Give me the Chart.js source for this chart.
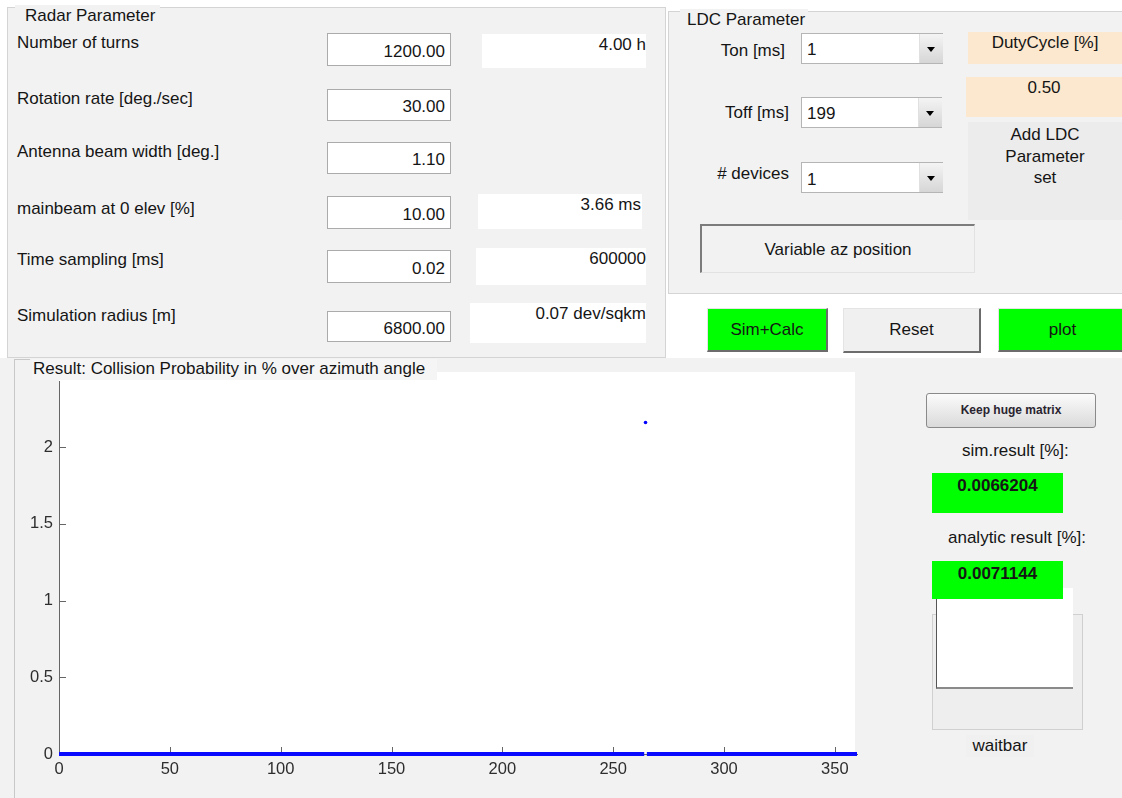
<!DOCTYPE html>
<html>
<head>
<meta charset="utf-8">
<script src="https://cdn.jsdelivr.net/npm/chart.js@4.4.1/dist/chart.umd.min.js"></script>
<style>
  body { margin: 0; width: 1122px; height: 798px; overflow: hidden; background: #fff;
         font-family: "Liberation Sans", Arial, sans-serif; font-size: 17px; color: #151515; position: relative; }
  .abs { position: absolute; box-sizing: border-box; white-space: nowrap; }
  .panel { background: #f2f2f2; border: 1px solid #d4d4d4; }
  .lbl { height: 22px; line-height: 22px; }
  .edit { background: #fff; border: 1px solid #ababab; text-align: right; padding-right: 5px; }
  .info { background: #fff; text-align: right; line-height: 22px; }
  .drop { background: #fff; border: 1px solid #b5b5b5; border-right: none; padding-left: 5px; }
  .drop .arrow { position: absolute; right: 0; top: 0; bottom: 0; width: 23px;
                 background: linear-gradient(#f4f4f4, #d6d6d6); border-left: 1px solid #e0e0e0; }
  .drop .arrow::after { content: ""; position: absolute; left: 7px; top: 13px;
                        border-left: 4px solid transparent; border-right: 4px solid transparent; border-top: 5px solid #000; }
  .btn { text-align: center; line-height: 42px; border-top: 1px solid #e4e4e4; border-left: 1px solid #e4e4e4;
         border-right: 2px solid #6c6c6c; border-bottom: 2px solid #6c6c6c; }
  .green { background: #00ff00; }
  .peach { background: #fce8cf; text-align: center; line-height: 22px; }
</style>
</head>
<body>
<!-- Radar parameter panel -->
<div class="abs panel" style="left:7px;top:7px;width:659px;height:351px;"></div>
<div class="abs lbl" style="left:15px;top:5px;width:145px;background:#f2f2f2;padding-left:10px;">Radar Parameter</div>
<div class="abs lbl" style="left:17px;top:32px;">Number of turns</div>
<div class="abs lbl" style="left:17px;top:88px;">Rotation rate [deg./sec]</div>
<div class="abs lbl" style="left:17px;top:141px;">Antenna beam width [deg.]</div>
<div class="abs lbl" style="left:17px;top:198px;">mainbeam at 0 elev [%]</div>
<div class="abs lbl" style="left:17px;top:249px;">Time sampling [ms]</div>
<div class="abs lbl" style="left:17px;top:305px;">Simulation radius [m]</div>

<div class="abs edit" style="left:327px;top:33px;width:124px;height:33px;line-height:35px;">1200.00</div>
<div class="abs edit" style="left:327px;top:89px;width:124px;height:32px;line-height:34px;">30.00</div>
<div class="abs edit" style="left:327px;top:142px;width:124px;height:32px;line-height:34px;">1.10</div>
<div class="abs edit" style="left:327px;top:196px;width:124px;height:33px;line-height:35px;">10.00</div>
<div class="abs edit" style="left:327px;top:250px;width:124px;height:33px;line-height:35px;">0.02</div>
<div class="abs edit" style="left:327px;top:311px;width:124px;height:31px;line-height:33px;">6800.00</div>

<div class="abs info" style="left:482px;top:34px;width:164px;height:34px;">4.00 h</div>
<div class="abs info" style="left:478px;top:194px;width:164px;height:35px;padding-right:1px;">3.66 ms</div>
<div class="abs info" style="left:476px;top:248px;width:170px;height:37px;">600000</div>
<div class="abs info" style="left:470px;top:303px;width:176px;height:40px;">0.07 dev/sqkm</div>

<!-- LDC parameter panel -->
<div class="abs panel" style="left:668px;top:11px;width:470px;height:283px;"></div>
<div class="abs lbl" style="left:680px;top:9px;width:128px;background:#f2f2f2;padding-left:7px;">LDC Parameter</div>
<div class="abs lbl" style="left:700px;top:40px;width:85px;text-align:right;">Ton [ms]</div>
<div class="abs lbl" style="left:700px;top:102px;width:89px;text-align:right;">Toff [ms]</div>
<div class="abs lbl" style="left:700px;top:163px;width:89px;text-align:right;"># devices</div>
<div class="abs drop" style="left:801px;top:33px;width:142px;height:31px;line-height:31px;">1<div class="arrow"></div></div>
<div class="abs drop" style="left:801px;top:97px;width:141px;height:31px;line-height:31px;">199<div class="arrow"></div></div>
<div class="abs drop" style="left:801px;top:162px;width:142px;height:31px;line-height:33px;">1<div class="arrow"></div></div>
<div class="abs peach" style="left:968px;top:32px;width:154px;height:32px;">DutyCycle [%]</div>
<div class="abs peach" style="left:966px;top:77px;width:156px;height:40px;">0.50</div>
<div class="abs" style="left:968px;top:122px;width:154px;height:98px;background:#ececec;text-align:center;line-height:21.5px;padding-top:2px;white-space:normal;">Add LDC<br>Parameter<br>set</div>
<div class="abs" style="left:700px;top:224px;width:275px;height:49px;background:#f2f2f2;border-top:2px solid #7c7c7c;border-left:2px solid #7c7c7c;border-right:1px solid #e2e2e2;border-bottom:1px solid #e2e2e2;text-align:center;line-height:48px;">Variable az position</div>

<!-- buttons -->
<div class="abs btn green" style="left:707px;top:308px;width:121px;height:44px;">Sim+Calc</div>
<div class="abs btn" style="left:843px;top:308px;width:138px;height:45px;background:#f0f0f0;">Reset</div>
<div class="abs btn green" style="left:998px;top:308px;width:130px;height:44px;">plot</div>

<!-- result area -->
<div class="abs" style="left:0;top:358px;width:1122px;height:440px;background:#f2f2f2;"></div>
<div class="abs" style="left:14px;top:359px;width:1px;height:439px;background:#c8c8c8;"></div>
<div class="abs" style="left:14px;top:359px;width:16px;height:1px;background:#c8c8c8;"></div>
<div class="abs" style="left:14px;top:362px;width:866px;height:436px;">
  <canvas id="resultChart" width="866" height="436"></canvas>
</div>
<div class="abs lbl" style="left:32px;top:359px;width:405px;height:21px;background:#f5f5f5;padding-left:1px;line-height:20px;">Result: Collision Probability in % over azimuth angle</div>

<!-- right side -->
<div class="abs" style="left:926px;top:393px;width:170px;height:35px;border:1px solid #8a8a8a;border-radius:3px;background:linear-gradient(#fbfbfb,#dadada);text-align:center;line-height:33px;font-size:12px;font-weight:bold;color:#2a2430;">Keep huge matrix</div>
<div class="abs lbl" style="left:962px;top:440px;">sim.result [%]:</div>
<div class="abs green" style="left:932px;top:473px;width:131px;height:40px;text-align:center;font-weight:bold;line-height:26px;">0.0066204</div>
<div class="abs lbl" style="left:948px;top:527px;">analytic result [%]:</div>
<div class="abs" style="left:932px;top:614px;width:151px;height:116px;background:#eeeeee;border:1px solid #d0d0d0;"></div>
<div class="abs" style="left:936px;top:588px;width:137px;height:101px;background:#fff;border-left:1px solid #555;border-bottom:2px solid #8a8a8a;"></div>
<div class="abs green" style="left:932px;top:561px;width:131px;height:38px;text-align:center;font-weight:bold;line-height:25px;">0.0071144</div>
<div class="abs lbl" style="left:966px;top:735px;width:68px;background:#f0f0f0;text-align:center;">waitbar</div>

<script>
// Result plot: collision probability in % over azimuth angle
const xTicks = [0, 50, 100, 150, 200, 250, 300, 350];
const yTicks = [0, 0.5, 1, 1.5, 2];
// baseline of samples at 0 %, broken where the one hit sits
const baseAngles = [0, 264.0, 264.6, 265.2, 360];
const baseValues = [0, 0, null, 0, 0];
const spikeAngles = [264.6];
const spikeValues = [2.16];

const FONT = '"Liberation Sans", Arial, sans-serif';

const plotBackground = {
    id: 'plotBackground',
    beforeDraw(chart) {
        const { ctx, chartArea: a } = chart;
        ctx.save();
        ctx.fillStyle = '#ffffff';
        ctx.fillRect(a.left, a.top - 9, a.right - a.left - 2, a.bottom - a.top + 9);
        ctx.restore();
    }
};

// matlab style ticks pointing into the axes
const innerTicks = {
    id: 'innerTicks',
    beforeDatasetsDraw(chart) {
        const { ctx, chartArea: a, scales } = chart;
        ctx.save();
        ctx.strokeStyle = '#666';
        ctx.lineWidth = 1;
        ctx.beginPath();
        scales.x.ticks.forEach(t => {
            const px = Math.round(scales.x.getPixelForValue(t.value)) + 0.5;
            ctx.moveTo(px, a.bottom);
            ctx.lineTo(px, a.bottom - 7);
        });
        scales.y.ticks.forEach(t => {
            const py = Math.round(scales.y.getPixelForValue(t.value)) + 0.5;
            ctx.moveTo(a.left, py);
            ctx.lineTo(a.left + 7, py);
        });
        ctx.stroke();
        ctx.restore();
    }
};

function initResultChart() {
    const ctx = document.getElementById('resultChart');
    new Chart(ctx, {
        type: 'line',
        data: {
            datasets: [{
                data: baseAngles.map((x, i) => ({ x, y: baseValues[i] })),
                borderColor: '#0a0aff',
                borderWidth: 4,
                borderCapStyle: 'butt',
                pointRadius: 0,
                spanGaps: false,
                clip: 6
            }, {
                type: 'scatter',
                data: spikeAngles.map((x, i) => ({ x, y: spikeValues[i] })),
                backgroundColor: '#0000ff',
                borderWidth: 0,
                pointRadius: 1.8
            }]
        },
        options: {
            responsive: false,
            animation: false,
            layout: { padding: { top: 19, right: 23, left: 0, bottom: 0 } },
            plugins: { legend: { display: false }, tooltip: { enabled: false } },
            scales: {
                x: {
                    type: 'linear',
                    min: 0,
                    max: 360,
                    afterBuildTicks: s => { s.ticks = xTicks.map(v => ({ value: v })); },
                    afterFit: s => { s.height = 44; },
                    grid: { display: false, drawTicks: false },
                    border: { display: true, color: '#666', width: 1 },
                    ticks: { color: '#2e2e2e', font: { size: 16.5, family: FONT }, padding: 6,
                             autoSkip: false, maxRotation: 0, callback: v => String(v) }
                },
                y: {
                    type: 'linear',
                    min: 0,
                    max: 2.43,
                    afterBuildTicks: s => { s.ticks = yTicks.map(v => ({ value: v })); },
                    afterFit: s => { s.width = 45; },
                    grid: { display: false, drawTicks: false },
                    border: { display: true, color: '#666', width: 1 },
                    ticks: { color: '#2e2e2e', font: { size: 16.5, family: FONT }, padding: 6,
                             callback: v => String(v) }
                }
            }
        },
        plugins: [plotBackground, innerTicks]
    });
}

if (document.readyState === 'loading') {
    document.addEventListener('DOMContentLoaded', initResultChart);
} else {
    initResultChart();
}
</script>
</body>
</html>
